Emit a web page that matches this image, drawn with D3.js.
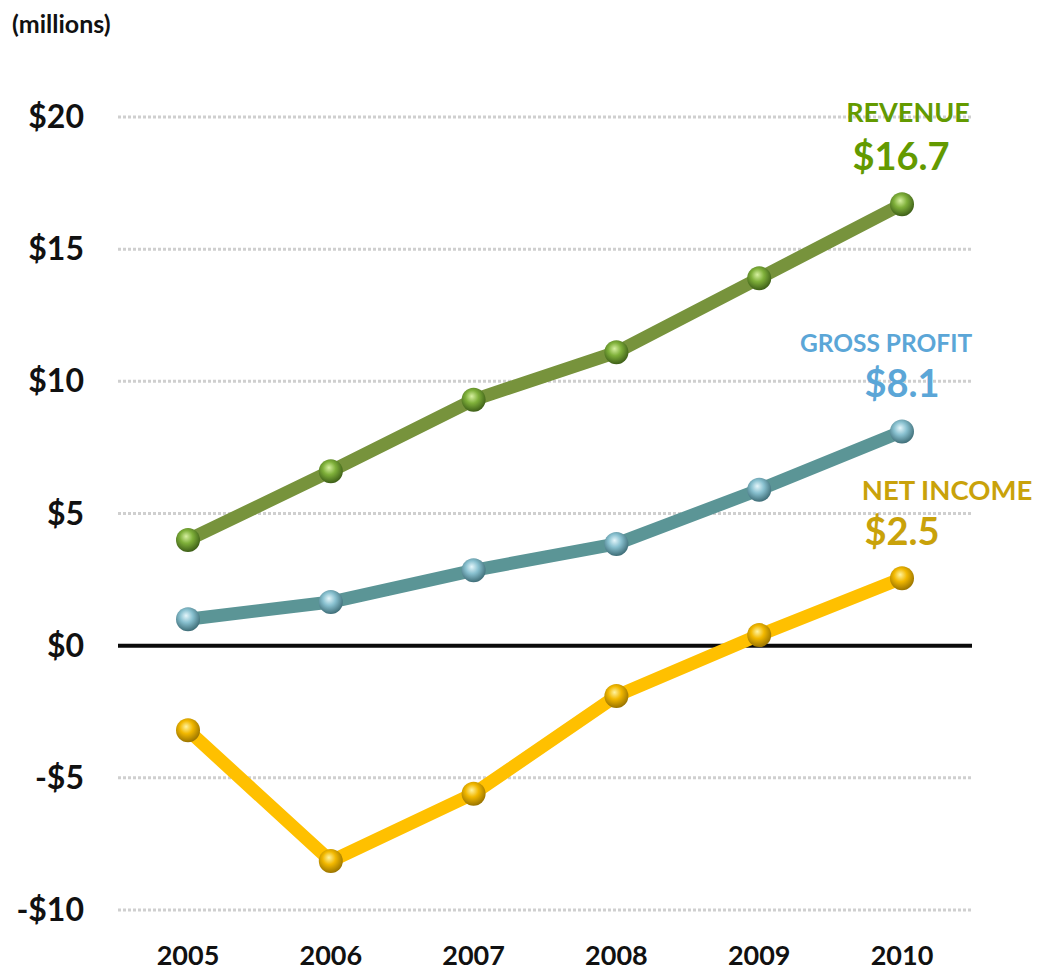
<!DOCTYPE html>
<html><head><meta charset="utf-8">
<script src="https://cdn.jsdelivr.net/npm/d3@7"></script>
<style>body{margin:0;background:#fff;} text{font-family:Lato,"Open Sans",sans-serif;font-weight:bold;}</style>
</head><body>
<svg id="c" width="1038" height="973"></svg>
<script>
const years = ["2005","2006","2007","2008","2009","2010"];
const revenue = [4.0, 6.6, 9.3, 11.1, 13.9, 16.7];
const grossProfit = [1.0, 1.65, 2.85, 3.85, 5.9, 8.1];
const netIncome = [-3.2, -8.15, -5.6, -1.9, 0.4, 2.55];
const yTicks = [20, 15, 10, 5, 0, -5, -10];
const seriesNames = ["REVENUE", "GROSS PROFIT", "NET INCOME"];
const endLabels = ["$16.7", "$8.1", "$2.5"];

const svg = d3.select("#c");
const y = d3.scaleLinear().domain([-10, 20]).range([910, 117]);
const x = d3.scalePoint().domain(years).range([188, 902]);

// gridlines
svg.append("g").selectAll("line").data(yTicks.filter(d => d !== 0)).join("line")
  .attr("x1", 118).attr("x2", 972).attr("y1", d => y(d)).attr("y2", d => y(d))
  .attr("stroke", "#cfcfcf").attr("stroke-width", 3).attr("stroke-dasharray", "3,2");
svg.append("line").attr("x1", 118).attr("x2", 972).attr("y1", y(0)).attr("y2", y(0))
  .attr("stroke", "#0a0a0a").attr("stroke-width", 4);

// y labels
svg.append("g").selectAll("text").data(yTicks).join("text")
  .attr("x", 84).attr("y", d => y(d) + 11).attr("text-anchor", "end")
  .attr("font-size", 32).attr("fill", "#111")
  .text(d => (d < 0 ? "-$" : "$") + Math.abs(d));
// x labels
svg.append("g").selectAll("text").data(years).join("text")
  .attr("x", d => x(d)).attr("y", 965).attr("text-anchor", "middle")
  .attr("font-size", 27).attr("fill", "#111").text(d => d);
svg.append("text").attr("x", 12).attr("y", 33).attr("font-size", 25).attr("fill", "#111").text("(millions)");

const defs = svg.append("defs");
const series = [
  {name: seriesNames[0], vals: revenue, line: "#77933c", lab: "#639a00", ball: ["#d6f0a0", "#7fb03a", "#3e5f18"], lx: 908, ly1: 122, fs1: 27, lx2: 901, ly2: 170},
  {name: seriesNames[1], vals: grossProfit, line: "#5b9596", lab: "#5ba6d7", ball: ["#e4f6fb", "#88c0cf", "#3f6e78"], lx: 886, ly1: 352, fs1: 24.5, lx2: 902, ly2: 397},
  {name: seriesNames[2], vals: netIncome, line: "#ffc000", lab: "#c9a20a", ball: ["#fff3a0", "#f2b800", "#9a7400"], lx: 947, ly1: 500, fs1: 27.5, lx2: 902, ly2: 545}
];
series.forEach((s, i) => {
  const g = defs.append("radialGradient").attr("id", "g" + i).attr("cx", "45%").attr("cy", "40%").attr("r", "60%").attr("fx", "42%").attr("fy", "35%");
  g.append("stop").attr("offset", "0%").attr("stop-color", s.ball[0]);
  g.append("stop").attr("offset", "45%").attr("stop-color", s.ball[1]);
  g.append("stop").attr("offset", "100%").attr("stop-color", s.ball[2]);
});
const line = d3.line().x((d, i) => x(years[i])).y(d => y(d));
series.forEach((s, i) => {
  svg.append("path").attr("d", line(s.vals)).attr("fill", "none").attr("stroke", s.line).attr("stroke-width", 13).attr("stroke-linejoin", "round");
  svg.append("g").selectAll("circle").data(s.vals).join("circle")
    .attr("cx", (d, j) => x(years[j])).attr("cy", d => y(d)).attr("r", 12)
    .attr("fill", `url(#g${i})`);
  svg.append("text").attr("x", s.lx).attr("y", s.ly1).attr("text-anchor", "middle").attr("font-size", s.fs1).attr("fill", s.lab).text(s.name);
  svg.append("text").attr("x", s.lx2).attr("y", s.ly2).attr("text-anchor", "middle").attr("font-size", 38).attr("fill", s.lab).text(endLabels[i]);
});
</script>
</body></html>
